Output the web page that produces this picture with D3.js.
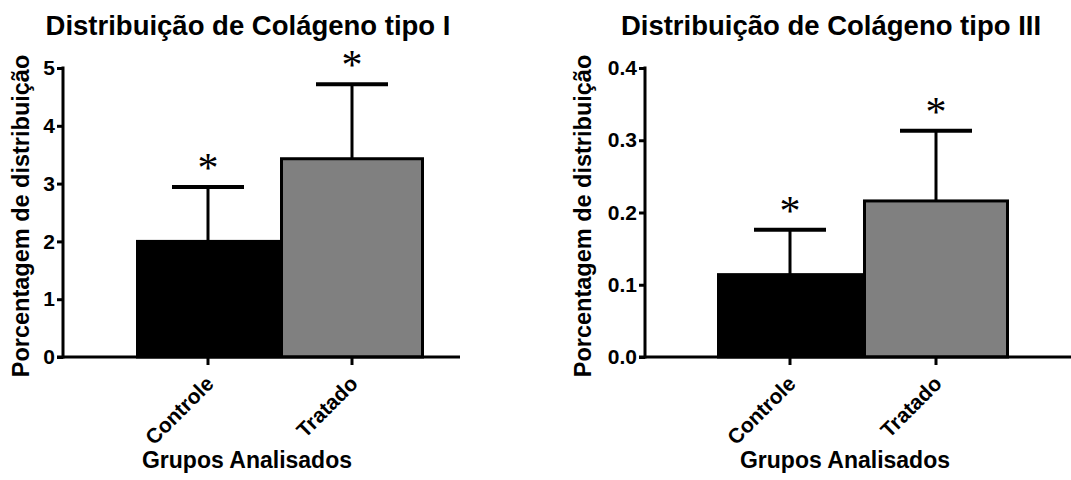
<!DOCTYPE html>
<html>
<head>
<meta charset="utf-8">
<script src="https://cdn.jsdelivr.net/npm/d3@7"></script>
<style>
  body { margin: 0; background: #fff; }
  text { font-family: Arial, "Liberation Sans", sans-serif; font-weight: bold; fill: #000; }
</style>
</head>
<body>
<div id="chart"></div>
<script>
const categories = ['Controle', 'Tratado'];
const barColors = ['#000000', '#808080'];

const tipo1Means = [2.0, 3.43];
const tipo1Errors = [0.94, 1.29];
const tipo1Ticks = [0, 1, 2, 3, 4, 5];

const tipo3Means = [0.114, 0.216];
const tipo3Errors = [0.062, 0.097];
const tipo3Ticks = [0, 0.1, 0.2, 0.3, 0.4];

let svg = d3.select('#chart').append('svg')
    .attr('width', 1071)
    .attr('height', 480);

let drawPanel = function(p) {
    let g = svg.append('g');

    let y = d3.scaleLinear().domain(p.domain).range([357, 68]);
    let x = d3.scaleBand().domain(categories).range(p.barRange).paddingInner(0);

    // bars
    categories.forEach(function(c, i) {
        let top = y(p.means[i]);
        let cx = x(c) + x.bandwidth() / 2;
        let errTop = y(p.means[i] + p.errors[i]);

        // error bar (drawn first so the bar covers its foot)
        g.append('line')
            .attr('x1', cx).attr('x2', cx)
            .attr('y1', top).attr('y2', errTop)
            .attr('stroke', '#000').attr('stroke-width', 3);
        g.append('line')
            .attr('x1', cx - 36).attr('x2', cx + 36)
            .attr('y1', errTop).attr('y2', errTop)
            .attr('stroke', '#000').attr('stroke-width', 4);

        g.append('rect')
            .attr('x', x(c) + 1.5)
            .attr('y', top)
            .attr('width', x.bandwidth() - 3)
            .attr('height', y(0) - top)
            .attr('fill', barColors[i])
            .attr('stroke', '#000')
            .attr('stroke-width', 3);

        g.append('text')
            .attr('x', cx)
            .attr('y', errTop - 5)
            .attr('text-anchor', 'middle')
            .style('font-weight', 'normal')
            .style('font-family', '"Liberation Serif", serif')
            .style('font-size', '42px')
            .text('*');
    });

    // y axis
    let yAxis = d3.axisLeft(y).tickValues(p.ticks).tickFormat(p.fmt).tickSize(6).tickPadding(2);
    let ya = g.append('g').attr('transform', 'translate(' + p.axisX + ',0)').call(yAxis);
    ya.select('.domain').attr('stroke-width', 3).attr('d', 'M0,66.5V358.5');
    ya.selectAll('.tick line').attr('stroke-width', 3);
    ya.selectAll('.tick text').style('font-size', '21px').style('font-weight', 'bold');

    // x axis
    let xAxis = d3.axisBottom(x).tickSize(8).tickSizeOuter(0);
    let xa = g.append('g').attr('transform', 'translate(0,357)').call(xAxis);
    xa.select('.domain').attr('stroke-width', 3).attr('d', 'M' + (p.axisX - 6) + ',0H' + p.axisEnd);
    xa.selectAll('.tick line').attr('stroke-width', 3);
    xa.selectAll('.tick text')
        .style('font-size', '21px')
        .attr('text-anchor', 'end')
        .attr('y', 0)
        .attr('dy', 0)
        .attr('transform', 'translate(7,28) rotate(-45)');

    // titles
    g.append('text')
        .attr('x', p.titleX).attr('y', 35)
        .attr('text-anchor', 'middle')
        .style('font-size', '27.5px')
        .text(p.title);

    g.append('text')
        .attr('x', p.xLabelX).attr('y', 468)
        .attr('text-anchor', 'middle')
        .style('font-size', '23px')
        .text('Grupos Analisados');

    g.append('text')
        .attr('transform', 'translate(' + p.labelX + ',216) rotate(-90)')
        .attr('text-anchor', 'middle')
        .style('font-size', '23.5px')
        .text('Porcentagem de distribuição');
};

drawPanel({
    means: tipo1Means, errors: tipo1Errors, ticks: tipo1Ticks,
    domain: [0, 5], fmt: d3.format('d'),
    barRange: [136, 424], axisX: 63, axisEnd: 460,
    title: 'Distribuição de Colágeno tipo I', titleX: 248, xLabelX: 247, labelX: 29
});

drawPanel({
    means: tipo3Means, errors: tipo3Errors, ticks: tipo3Ticks,
    domain: [0, 0.4], fmt: d3.format('.1f'),
    barRange: [717, 1009], axisX: 645, axisEnd: 1071,
    title: 'Distribuição de Colágeno tipo III', titleX: 831, xLabelX: 845, labelX: 591
});
</script>
</body>
</html>
